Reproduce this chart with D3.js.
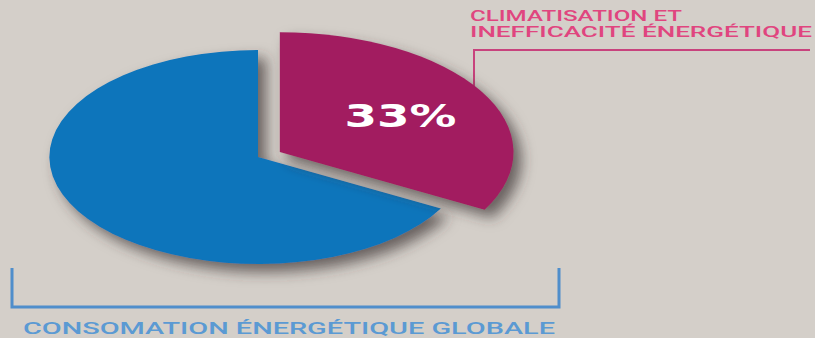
<!DOCTYPE html>
<html>
<head>
<meta charset="utf-8">
<script src="https://cdn.jsdelivr.net/npm/d3@7"></script>
<style>
  body { margin: 0; background: #d4cfc9; }
  svg { display: block; }
</style>
</head>
<body>
<div id="app"></div>
<script>
'use strict'

// slices, in clockwise order from 12 o'clock
const categories = ['Climatisation et inefficacité énergétique', 'Consommation énergétique globale']
const values = [33, 67]
const colors = ['#a21e60', '#1174bb']
const valueLabels = ['33%', '']
const topLabel = ['CLIMATISATION ET', 'INEFFICACITÉ ÉNERGÉTIQUE']
const bottomLabel = ['CONSOMATION ÉNERGÉTIQUE GLOBALE']

const main = () => {
	const width = 815
	const height = 338
	const cx = 258, cy = 157
	const sx = 1.95            // pie is stretched horizontally
	const r = 107

	const svg = d3.select('#app')
		.append('svg')
		.attr('width', width)
		.attr('height', height)

	svg.append('rect')
		.attr('width', width)
		.attr('height', height)
		.attr('fill', '#d4cfc9')

	const defs = svg.append('defs')
	defs.append('filter')
		.attr('id', 'shadow')
		.attr('x', '-20%').attr('y', '-20%')
		.attr('width', '150%').attr('height', '150%')
		.append('feDropShadow')
		.attr('dx', 8).attr('dy', 8)
		.attr('stdDeviation', 7)
		.attr('flood-color', '#3b3632')
		.attr('flood-opacity', 0.7)

	// brackets
	svg.append('path')
		.attr('d', 'M474,95V50H810')
		.attr('fill', 'none')
		.attr('stroke', '#c8437d')
		.attr('stroke-width', 2)

	svg.append('path')
		.attr('d', 'M12,268V307H559V268')
		.attr('fill', 'none')
		.attr('stroke', '#4f8ecb')
		.attr('stroke-width', 3)

	const pie = d3.pie().sort(null).value(d => d)
	const arcs = pie(values)

	const arcFor = i => d3.arc()
		.innerRadius(0)
		.outerRadius(i === 0 ? r * 1.12 : r)

	// explode the first slice along its bisector
	const offset = i => {
		if (i !== 0) return [0, 0]
		const a = (arcs[i].startAngle + arcs[i].endAngle) / 2
		const d = 13
		return [Math.sin(a) * d * sx, -Math.cos(a) * d * 0.75]
	}

	const order = [1, 0]
	order.forEach(i => {
		const [ox, oy] = offset(i)
		svg.append('g')
			.attr('filter', 'url(#shadow)')
			.append('g')
			.attr('transform', `translate(${cx + ox},${cy + oy}) scale(${sx},1)`)
			.append('path')
			.attr('d', arcFor(i)(arcs[i]))
			.attr('fill', colors[i])
			.append('title').text(`${categories[i]}: ${values[i]}%`)
	})

	// value label
	arcs.forEach((a, i) => {
		if (!valueLabels[i]) return
		const [ox, oy] = offset(i)
		const rr = (i === 0 ? r * 1.12 : r) * 1.2
		const c = d3.arc().innerRadius(0).outerRadius(rr).centroid(a)
		svg.append('text')
			.attr('x', cx + ox + c[0] * sx)
			.attr('y', cy + oy + c[1] + 12)
			.attr('text-anchor', 'middle')
			.attr('textLength', 112)
			.attr('lengthAdjust', 'spacingAndGlyphs')
			.style('font-family', 'DejaVu Sans')
			.style('font-weight', 'bold')
			.style('font-size', '32px')
			.style('fill', '#ffffff')
			.text(valueLabels[i])
	})

	// top label
	const topLens = [212, 342]
	topLabel.forEach((t, i) => {
		svg.append('text')
			.attr('x', 470)
			.attr('y', 21 + i * 16)
			.attr('textLength', topLens[i])
			.attr('lengthAdjust', 'spacingAndGlyphs')
			.style('font-family', 'Roboto')
			.style('font-weight', 500)
			.style('font-size', '14px')
			.style('fill', '#e0457f')
			.text(t)
	})

	svg.append('text')
		.attr('x', 23)
		.attr('y', 334)
		.attr('textLength', 532)
		.attr('lengthAdjust', 'spacingAndGlyphs')
		.style('font-family', 'Roboto')
		.style('font-weight', 500)
		.style('font-size', '16px')
		.style('fill', '#5b9ad3')
		.text(bottomLabel[0])
}

main()
</script>
</body>
</html>
